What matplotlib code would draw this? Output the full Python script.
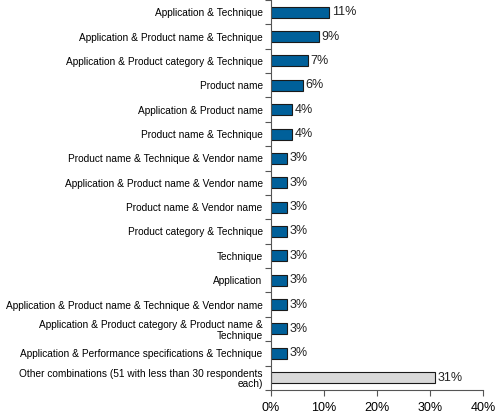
import matplotlib.pyplot as plt
import numpy as np

plt.rcParams['font.family'] = ['Liberation Sans', 'DejaVu Sans']

# categories, top to bottom
categories = [
    'Application & Technique',
    'Application & Product name & Technique',
    'Application & Product category & Technique',
    'Product name',
    'Application & Product name',
    'Product name & Technique',
    'Product name & Technique & Vendor name',
    'Application & Product name & Vendor name',
    'Product name & Vendor name',
    'Product category & Technique',
    'Technique',
    'Application',
    'Application & Product name & Technique & Vendor name',
    'Application & Product category & Product name &\nTechnique',
    'Application & Performance specifications & Technique',
    'Other combinations (51 with less than 30 respondents\neach)',
]
values = [11, 9, 7, 6, 4, 4, 3, 3, 3, 3, 3, 3, 3, 3, 3, 31]
bar_colors = ['#00609a'] * 15 + ['#d9d9d9']

fig = plt.figure(figsize=(5, 4.13), dpi=100)
ax = fig.add_axes([0.542, 0.056, 0.424, 0.944])

y = np.arange(len(categories))
ax.barh(y, values, height=0.45, color=bar_colors, edgecolor='#1a1a1a', linewidth=0.8)
for yi, v in zip(y, values):
    ax.text(v + 0.5, yi, '%d%%' % v, va='center', ha='left', fontsize=9, color='#222222')

ax.set_ylim(len(categories) - 0.5, -0.5)
ax.set_xlim(0, 40)
ax.set_xticks([0, 10, 20, 30, 40])
ax.set_xticklabels(['0%', '10%', '20%', '30%', '40%'], fontsize=9)

# labels at bar centres, tick marks at the boundaries
ax.set_yticks(y)
ax.set_yticklabels(categories, fontsize=7.3, linespacing=1.1)
ax.tick_params(axis='y', length=0, pad=6)
ax.set_yticks(np.arange(len(categories) + 1) - 0.5, minor=True)
ax.tick_params(axis='y', which='minor', length=4, width=0.8, color='#555555')
ax.tick_params(axis='x', length=4, width=0.8, color='#555555', pad=5)

ax.spines['top'].set_visible(False)
ax.spines['right'].set_visible(False)
ax.spines['left'].set_color('#555555')
ax.spines['bottom'].set_color('#555555')

plt.savefig('out.png', dpi=100)
